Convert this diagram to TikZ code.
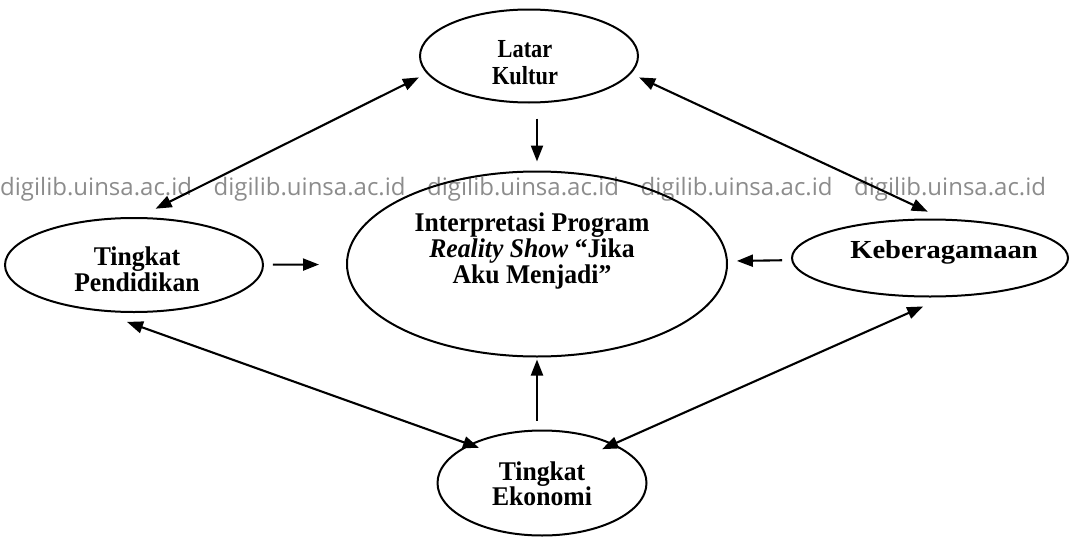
\documentclass[tikz,border=0pt]{standalone}
\usepackage{fontspec}
\setmainfont{Liberation Serif}
\newfontfamily\lblfont[FakeStretch=0.95]{Liberation Serif}
\newfontfamily\narrowlbl[FakeStretch=0.86]{Liberation Serif}
\newfontfamily\widelbl[FakeStretch=1.1]{Liberation Serif}
\newfontfamily\wmfont{Open Sans}
\usepackage{tikz}
\usetikzlibrary{shapes.geometric, arrows.meta, positioning, calc}

\begin{document}
\begin{tikzpicture}[x=1pt, y=-1pt,
    factor/.style={ellipse, draw, line width=2pt, inner sep=0pt, outer sep=10pt},
    lbl/.style={align=center, inner sep=0pt, font=\lblfont\bfseries\fontsize{27}{25}\selectfont},
    link/.style={line width=2.1pt, >={Triangle[length=16pt, width=12pt]}},
    wmark/.style={anchor=base west, inner sep=0pt, text=black!45, font=\wmfont\fontsize{24}{25}\selectfont}]
\useasboundingbox (0,0) rectangle (1071,538);

% Watermark
\foreach \i in {0,...,4}
  \node[wmark] (wm\i) at (\i*213.5, 195) {digilib.uinsa.ac.id};

% Factors (ellipses)
\node[factor, minimum width=218, minimum height=93] (lk) at (529,56) {};
\node[factor, minimum width=380, minimum height=185] (ip) at (537,264) {};
\node[factor, minimum width=258, minimum height=94] (tp) at (134,265) {};
\node[factor, minimum width=276, minimum height=77] (kb) at (930,258) {};
\node[factor, minimum width=209, minimum height=105] (te) at (542,483) {};

% Labels
\node[lbl, font=\narrowlbl\bfseries\fontsize{26}{27}\selectfont] (lk-txt) at (525,63) {Latar\\Kultur};
\node[lbl, font=\lblfont\bfseries\fontsize{27}{26}\selectfont] (ip-txt) at (532,251)
    {Interpretasi Program\\\textit{Reality Show} “Jika\\Aku Menjadi”};
\node[lbl, font=\lblfont\bfseries\fontsize{27}{23.5}\selectfont] (tp-txt) at (137,269) {Tingkat\\Pendidikan};
\node[lbl, font=\widelbl\bfseries\fontsize{26}{25}\selectfont] (kb-txt) at (944,252) {Keberagamaan};
\node[lbl] (te-txt) at (542,484) {Tingkat\\Ekonomi};

% Influences on the interpretation
\draw[link, ->, shorten <=6pt] (lk.south -| ip.north) -- (ip.north);
\draw[link, ->, shorten >=18pt] (tp) -- (ip);
\draw[link, ->] (kb) -- (ip);
\draw[link, ->, shorten >=-7pt] (te.north -| ip.south) -- (ip.south);

% Mutual relations
\draw[link, <->] (lk.191) -- (tp.69);
\draw[link, <->, shorten >=-5pt] (lk.349.5) -- (kb.98.6);
\draw[link, <->, shorten >=-22pt] (tp.263) -- (te.153);
\draw[link, <->, shorten >=-24pt] (kb.262) -- (te.28);
\end{tikzpicture}
\end{document}
